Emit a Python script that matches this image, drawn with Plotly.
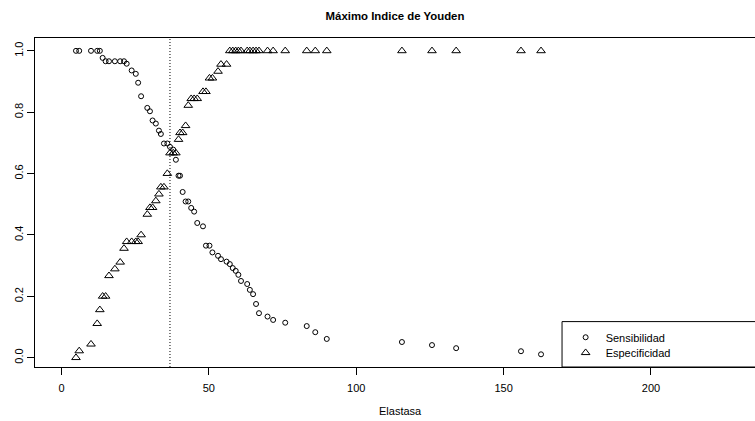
import plotly.graph_objects as go

# Cutoff values of Elastasa with the sensitivity / specificity at each cutoff
elastasa = [4.9, 6.0, 10.0, 12.1, 13.0, 13.95, 14.96, 16.1, 18.1, 19.9,
            21.2, 22.1, 23.8, 25.2, 26.0, 27.0, 29.1, 30.0, 30.9, 32.0,
            33.05, 33.7, 34.75, 35.9, 36.8, 37.9, 38.8, 39.7, 40.2, 41.1,
            42.1, 43.0, 44.0, 45.0, 46.05, 48.0, 49.0, 50.2, 51.2, 53.1,
            54.1, 56.0, 57.1, 58.1, 59.1, 60.0, 60.9, 63.0, 63.9, 65.0,
            66.0, 67.0, 69.9, 71.8, 75.9, 83.2, 86.1, 90.0, 115.5, 125.7,
            133.9, 155.9, 162.7]

sensibilidad = [1.0, 1.0, 1.0, 1.0, 1.0, 0.977, 0.966, 0.966, 0.966, 0.966,
                0.966, 0.958, 0.936, 0.925, 0.896, 0.852, 0.814, 0.803, 0.773, 0.763,
                0.740, 0.729, 0.698, 0.698, 0.687, 0.678, 0.645, 0.593, 0.593, 0.540,
                0.509, 0.509, 0.488, 0.476, 0.439, 0.428, 0.365, 0.365, 0.343, 0.332,
                0.321, 0.313, 0.305, 0.292, 0.283, 0.270, 0.250, 0.240, 0.221, 0.207,
                0.175, 0.145, 0.134, 0.123, 0.114, 0.103, 0.083, 0.061, 0.051, 0.041,
                0.031, 0.021, 0.011]

especificidad = [0.0, 0.022, 0.044, 0.111, 0.156, 0.2, 0.2, 0.267, 0.289, 0.311,
                 0.356, 0.378, 0.378, 0.378, 0.378, 0.4, 0.467, 0.489, 0.489, 0.511,
                 0.533, 0.556, 0.556, 0.6, 0.667, 0.667, 0.667, 0.711, 0.733, 0.733,
                 0.756, 0.822, 0.844, 0.844, 0.844, 0.867, 0.867, 0.911, 0.911, 0.933,
                 0.956, 0.956, 1.0, 1.0, 1.0, 1.0, 1.0, 1.0, 1.0, 1.0,
                 1.0, 1.0, 1.0, 1.0, 1.0, 1.0, 1.0, 1.0, 1.0, 1.0,
                 1.0, 1.0, 1.0]

y_ticks = [0.0, 0.2, 0.4, 0.6, 0.8, 1.0]
y_ticktext = ["0.0", "0.2", "0.4", "0.6", "0.8", "1.0"]
x_ticks = [0, 50, 100, 150, 200]

# Cutoff maximising the Youden index (sens + spec - 1)
youden = [s + e - 1 for s, e in zip(sensibilidad, especificidad)]
corte = elastasa[youden.index(max(youden))]

FONT = "Liberation Sans, Arial, sans-serif"

fig = go.Figure()
fig.add_trace(go.Scatter(
    x=elastasa, y=sensibilidad, mode="markers", name="Sensibilidad", legend="legend",
    marker=dict(symbol="circle-open", size=5, color="black", line=dict(width=1, color="black")),
))
fig.add_trace(go.Scatter(
    x=elastasa, y=especificidad, mode="markers", name="Especificidad", legend="legend2",
    marker=dict(symbol="triangle-up-open", size=7.5, color="black", line=dict(width=1, color="black")),
))

# dotted vertical line at the optimal cutoff
fig.add_shape(type="line", xref="x", yref="paper", x0=corte, x1=corte, y0=0, y1=1,
              line=dict(color="black", width=1, dash="1px,2px"))

# legend frame (runs off the right side)
fig.add_shape(type="rect", xref="paper", yref="paper", x0=0.732, x1=1.02, y0=0, y1=0.138,
              line=dict(color="black", width=1), fillcolor="white", layer="below")

legend_common = dict(x=0.737, xanchor="left", yanchor="middle",
                     bgcolor="rgba(0,0,0,0)", borderwidth=0,
                     font=dict(family=FONT, size=11, color="black"), itemwidth=30)

fig.update_layout(
    width=755, height=421,
    margin=dict(l=35, r=0, t=38, b=54),
    paper_bgcolor="white", plot_bgcolor="white",
    font=dict(family=FONT, size=11, color="black"),
    title=dict(text="<b>Máximo Indice de Youden</b>", x=0.5, xref="paper",
               y=1 - 16 / 421, yanchor="middle", yref="container",
               font=dict(family=FONT, size=11.4, color="black")),
    showlegend=True,
    legend=dict(y=0.0904, **legend_common),
    legend2=dict(y=0.0435, **legend_common),
    xaxis=dict(range=[-9.0, 235.3], tickvals=x_ticks, ticks="outside", ticklen=7,
               tickcolor="black", tickwidth=1, showline=True, linecolor="black",
               linewidth=1, mirror=True, showgrid=False, zeroline=False,
               ticklabelstandoff=4,
               tickfont=dict(family=FONT, size=11, color="black")),
    yaxis=dict(range=[-0.0304, 1.0418], tickvals=y_ticks, ticktext=y_ticktext,
               ticks="outside", ticklen=7, tickcolor="black", tickwidth=1,
               showline=True, linecolor="black", linewidth=1, mirror=False,
               showgrid=False, zeroline=False, tickangle=-90,
               tickfont=dict(family=FONT, size=11, color="black")),
    annotations=[dict(text="Elastasa", xref="paper", yref="paper", x=0.507, y=-0.134,
                      xanchor="center", yanchor="middle", showarrow=False,
                      font=dict(family=FONT, size=11, color="black"))],
)

fig.write_html("out.html")
